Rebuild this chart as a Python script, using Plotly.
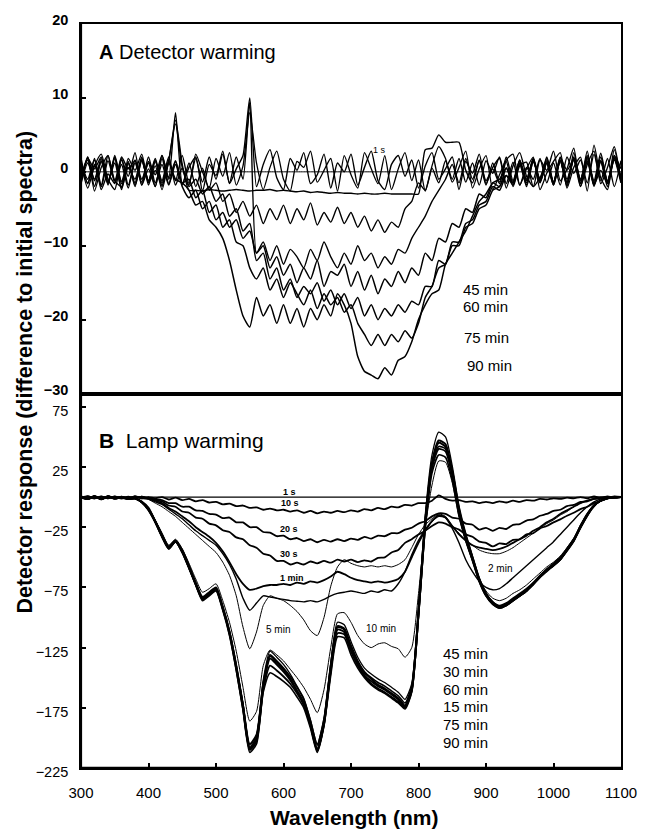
import plotly.graph_objects as go

# ---------------- data ----------------
WAVELENGTH = list(range(300, 1101, 10))

# Panel A: detector warming (difference to initial spectra)
A_1S = [0.0, 0.0, 0.0, 0.0, 0.0, 0.0, 0.0, 0.0, 0.0, 0.0,
        0.0, 0.0, 0.0, 0.0, 0.0, 0.0, 0.0, 0.0, 0.0, 0.0,
        0.0, 0.0, 0.0, 0.0, 0.0, 0.0, 0.0, 0.0, 0.0, 0.0,
        0.0, 0.0, 0.0, 0.0, 0.0, 0.0, 0.0, 0.0, 0.0, 0.0,
        0.0, 0.0, 0.0, 0.0, 0.0, 0.0, 0.0, 0.0, 0.0, 0.0,
        0.0, 0.0, 0.0, 0.0, 0.0, 0.0, 0.0, 0.0, 0.0, 0.0,
        0.0, 0.0, 0.0, 0.0, 0.0, 0.0, 0.0, 0.0, 0.0, 0.0,
        0.0, 0.0, 0.0, 0.0, 0.0, 0.0, 0.0, 0.0, 0.0, 0.0,
        0.0]
A_2MIN = [-0.8, 2.0, -2.6, 0.6, 2.2, -1.2, -2.0, 1.8, 0.2, 2.4,
          -1.4, 0.8, -2.4, 1.6, 6.5, 0.6, -1.8, 2.4, 0.0, -2.2,
          1.8, -0.6, 2.6, -1.8, 0.8, 8.0, 1.2, -2.4, 0.6, 2.8,
          -1.0, -2.6, 1.4, 0.6, 2.8, -1.4, 0.2, 1.8, -2.6, 2.2,
          -0.4, -2.2, 2.6, 0.4, -1.6, 2.2, -2.4, 0.4, 2.6, -1.2,
          1.6, -2.6, 0.8, 3.4, 1.8, -1.4, 0.6, 2.8, -2.2, 0.4,
          2.2, -2.4, -0.4, 1.6, 2.4, -1.8, 0.4, 2.0, -2.4, -0.2,
          1.4, 2.6, -2.2, 0.6, 2.0, -2.6, 3.6, -0.8, -2.4, 2.2,
          0.4]
A_5MIN = [1.2, -2.2, 0.8, 2.4, -1.0, -2.4, 1.6, -0.6, 2.6, -1.8,
          0.4, -2.0, 2.2, -0.8, 8.0, -1.6, 0.6, 2.0, -2.6, 1.0,
          -0.5, 2.8, -1.6, 0.4, 2.2, 10.0, -2.0, 1.0, 3.0, -0.8,
          -2.4, 1.8, 0.2, 2.6, -1.6, -0.4, 2.4, -2.2, 1.2, 0.0,
          2.4, -1.8, 0.6, 2.8, -1.2, -2.4, 1.0, 2.2, -0.6, 1.6,
          -2.2, 0.8, 2.6, -1.0, 0.4, 2.0, -2.4, 1.4, -0.2, 2.4,
          -1.6, 0.6, 1.8, -2.2, 0.8, 2.6, -0.6, -2.0, 1.6, 0.2,
          2.8, -1.2, 0.4, 3.2, -2.0, 1.0, 2.8, -1.6, 0.6, 3.4,
          -1.4]
A_10MIN = [-1.2, 1.8, 0.4, 2.0, -1.4, 1.2, -2.2, 0.6, -1.0, 1.8,
           -1.5, 0.2, -1.8, 1.4, 7.0, 1.0, -2.5, -2.5, -2.6, -2.4,
           -2.5, -2.6, -2.5, -2.4, -2.5, -2.6, -2.5, -2.5, -2.4, -2.6,
           -2.5, -2.6, -2.7, -2.6, -2.8, -2.7, -2.8, -2.9, -2.8, -2.9,
           -2.9, -3.0, -2.9, -3.0, -3.0, -2.9, -3.0, -3.0, -3.0, -3.0,
           -3.0, 3.0, 3.2, 5.0, 4.0, 4.0, 4.0, 0.2, -1.5, 1.6,
           -1.2, 0.4, -1.6, 1.4, -2.0, 0.8, 1.3, -2.0, -0.8, 1.2,
           -1.4, 1.9, 0.2, 1.6, -1.5, 2.8, -1.8, 0.2, -1.6, 3.0,
           -1.2]
A_15MIN = [1.0, -1.5, 1.8, -2.4, -0.3, -1.6, 2.0, 0.4, 1.5, -1.8,
           1.4, -0.4, 2.2, -1.0, 1.5, -1.8, 1.2, -2.0, 0.5, -2.5,
           -1.5, -4.0, -3.0, -5.5, -4.0, -6.0, -4.5, -7.0, -5.0, -6.5,
           -4.5, -7.0, -5.0, -6.5, -4.2, -7.2, -5.5, -6.8, -4.8, -7.0,
           -5.5, -7.5, -6.0, -8.0, -6.5, -8.2, -6.8, -7.5, -5.0, -4.0,
           -1.5, -2.5, 0.5, -1.5, 1.5, -1.0, 1.8, -1.4, 1.2, -1.8,
           1.5, -0.2, 2.0, -1.6, 1.3, -1.8, 0.6, -1.0, 1.8, -1.5,
           1.2, -1.8, 2.0, -0.2, 1.6, -1.5, 2.4, -1.2, 1.8, -2.0,
           1.5]
A_30MIN = [-1.6, 1.2, -1.0, 1.8, -1.8, 2.2, -1.3, 1.4, -2.0, 1.6,
           -1.2, 1.6, -2.0, 1.5, -1.2, 2.2, -1.6, 1.8, -1.4, 2.0,
           -1.0, 2.4, -1.5, 2.0, -1.0, 9.5, -11.0, -9.5, -12.0, -10.0,
           -12.5, -10.5, -11.5, -13.0, -10.5, -12.0, -9.5, -11.5, -13.0, -11.0,
           -12.5, -10.0, -12.0, -11.0, -13.0, -11.5, -12.5, -10.5, -11.0, -9.0,
           -7.5, -6.0, -4.0, -2.5, -1.0, 1.0, -1.5, 1.8, -1.0, 1.5,
           -1.8, 1.2, -1.4, 2.0, -1.2, 1.6, -2.0, 1.4, -1.0, 1.8,
           -1.5, 1.6, -1.8, 2.6, -1.2, 1.8, -2.0, 1.5, -1.6, 2.2,
           -0.8]
A_45MIN = [1.2, -1.0, 1.6, -1.8, 2.2, -1.5, 1.0, -2.2, 1.6, -1.0,
           1.2, -2.0, 1.8, -1.6, 1.0, -2.0, -3.5, -2.5, -5.0, -4.0,
           -6.5, -5.5, -7.5, -6.5, -9.0, -8.0, -11.0, -10.0, -13.0, -11.5,
           -14.0, -12.5, -15.0, -13.0, -14.5, -12.0, -15.5, -13.5, -14.0, -12.5,
           -15.5, -13.5, -16.0, -14.0, -16.5, -14.5, -15.5, -13.5, -15.0, -13.0,
           -14.0, -11.0, -12.0, -9.0, -9.5, -7.0, -7.5, -5.0, -5.5, -3.0,
           -3.5, -1.5, -2.0, 0.5, -1.5, 1.6, -1.2, 1.8, -1.5, 1.2,
           -1.6, 2.0, -1.0, 1.6, -2.0, 1.4, -1.8, 2.0, -1.2, 1.6,
           -1.5]
A_60MIN = [-1.4, 2.0, -1.2, 1.4, -1.6, 1.8, -2.4, 1.2, -1.5, 2.0,
           -1.8, 1.4, -1.2, 2.0, -1.8, 0.5, -2.0, -1.0, -3.0, -2.0,
           -4.0, -3.0, -6.0, -5.0, -8.0, -7.0, -12.0, -11.0, -14.5, -13.0,
           -16.0, -14.5, -17.0, -15.5, -16.5, -15.0, -17.5, -16.0, -18.0, -16.5,
           -18.5, -17.0, -19.5, -18.0, -20.0, -18.5, -19.5, -18.0, -19.0, -17.5,
           -18.0, -15.5, -15.5, -12.0, -12.5, -9.5, -9.5, -7.0, -6.5, -4.5,
           -4.0, -2.0, -2.5, -0.5, -1.5, 1.0, -1.8, 1.4, -1.2, 2.0,
           -1.4, 1.5, -2.0, 1.8, -1.2, 2.2, -1.6, 1.4, -2.0, 1.8,
           -1.0]
A_75MIN = [1.8, -1.6, 1.0, -2.0, 1.5, -1.2, 1.8, -1.8, 1.2, -1.4,
           2.0, -1.5, 1.0, -1.8, 1.4, -1.5, -1.0, -3.5, -2.5, -5.5,
           -4.5, -7.5, -6.5, -9.5, -10.0, -13.0, -14.5, -13.0, -16.0, -14.5,
           -17.0, -15.0, -16.5, -18.0, -16.0, -18.5, -16.5, -18.0, -17.0, -19.0,
           -18.0, -20.5, -22.0, -23.5, -22.0, -23.5, -22.0, -23.0, -21.5, -22.5,
           -20.5, -17.0, -15.5, -13.0, -12.5, -10.0, -10.0, -7.5, -7.0, -5.0,
           -4.5, -2.5, -2.0, -0.5, -1.8, 1.2, -1.5, 1.8, -1.0, 1.5,
           -1.8, 1.6, -1.4, 2.0, -1.6, 1.5, -1.2, 2.5, -1.5, 1.8,
           -1.2]
A_90MIN = [-1.0, 1.6, -2.0, 1.5, -1.4, 2.0, -1.6, 1.2, -1.8, 1.5,
           -1.2, 1.8, -1.5, 1.2, -1.0, -1.5, -2.5, -4.5, -4.0, -6.5,
           -7.5, -9.0, -12.0, -16.0, -19.5, -21.0, -17.0, -19.5, -18.0, -20.5,
           -18.0, -20.5, -18.5, -21.0, -18.5, -20.0, -18.0, -19.5, -16.5, -18.0,
           -20.5, -25.0, -27.0, -27.5, -28.0, -26.5, -27.5, -25.5, -25.0, -23.0,
           -20.0, -18.0, -16.5, -16.0, -12.5, -11.0, -9.5, -8.0, -6.0, -4.0,
           -3.0, -1.5, -1.0, 0.5, -1.5, 1.4, -1.0, 1.6, -1.4, 1.2,
           -1.8, 1.5, -1.5, 1.8, -1.0, 2.0, -1.6, 1.5, -1.4, 2.0,
           -1.0]

# Panel B: lamp warming
B_1S = [0.0, 0.0, 0.0, 0.0, 0.0, 0.0, 0.0, 0.0, 0.0, 0.0,
        0.0, 0.0, 0.0, 0.0, 0.0, 0.0, 0.0, 0.0, 0.0, 0.0,
        0.0, 0.0, 0.0, 0.0, 0.0, 0.0, 0.0, 0.0, 0.0, 0.0,
        0.0, 0.0, 0.0, 0.0, 0.0, 0.0, 0.0, 0.0, 0.0, 0.0,
        0.0, 0.0, 0.0, 0.0, 0.0, 0.0, 0.0, 0.0, 0.0, 0.0,
        0.0, 0.0, 0.0, 0.0, 0.0, 0.0, 0.0, 0.0, 0.0, 0.0,
        0.0, 0.0, 0.0, 0.0, 0.0, 0.0, 0.0, 0.0, 0.0, 0.0,
        0.0, 0.0, 0.0, 0.0, 0.0, 0.0, 0.0, 0.0, 0.0, 0.0,
        0.0]
B_10S = [0.5, -1.5, 0.8, -1.2, 0.5, -1.5, 0.3, -1.2, 0.5, -1.0,
         0.0, -1.0, 0.0, -2.0, -0.5, -2.5, -1.5, -3.5, -2.5, -4.5,
         -4.0, -6.0, -5.5, -7.5, -7.0, -9.0, -8.5, -10.5, -9.5, -11.0,
         -10.5, -12.0, -11.0, -13.0, -11.5, -13.5, -12.0, -13.0, -11.5, -12.5,
         -11.0, -12.0, -10.0, -11.0, -9.0, -10.0, -8.0, -8.5, -6.5, -7.0,
         -5.0, -5.0, -3.0, 1.5, -1.5, -3.0, -2.5, -4.0, -3.5, -5.0,
         -4.0, -5.0, -3.5, -4.5, -3.0, -4.0, -2.5, -3.0, -1.5, -2.0,
         -1.0, -1.5, -0.5, -1.0, 0.0, -1.0, 0.5, -0.5, 0.5, -0.5,
         0.0]
B_20S = [-0.5, 0.8, -1.2, 0.6, -1.0, 0.5, -1.3, 0.4, -0.8, 0.3,
         -1.0, -2.0, -2.5, -5.0, -5.0, -8.0, -8.0, -11.0, -11.5, -14.0,
         -14.5, -17.5, -17.0, -21.0, -21.0, -25.0, -25.0, -29.0, -29.5, -32.5,
         -32.0, -35.0, -34.0, -36.5, -35.0, -37.5, -35.5, -37.0, -35.0, -36.5,
         -34.5, -35.5, -33.0, -34.5, -32.0, -32.5, -30.0, -30.0, -27.0, -25.5,
         -22.0, -20.0, -16.0, -13.5, -14.0, -17.0, -18.0, -22.0, -23.0, -27.0,
         -25.5, -28.0, -25.5, -26.5, -23.0, -22.5, -19.5, -18.5, -15.5, -14.0,
         -11.5, -10.5, -7.5, -6.5, -4.0, -3.5, -1.5, -1.0, 0.0, -0.5,
         0.0]
B_30S = [0.6, -1.0, 0.4, -1.5, 0.8, -0.8, 0.2, -1.2, 0.5, -0.6,
         -0.5, -2.5, -3.5, -7.0, -8.0, -12.0, -13.0, -17.0, -18.0, -22.0,
         -23.5, -27.5, -29.0, -33.5, -35.0, -40.0, -42.0, -47.0, -48.5, -53.0,
         -53.0, -56.0, -54.5, -56.0, -53.5, -55.0, -53.0, -54.5, -52.0, -53.5,
         -52.0, -54.0, -52.5, -53.5, -50.5, -50.0, -46.0, -44.0, -38.0, -35.0,
         -31.0, -28.0, -24.0, -21.0, -22.0, -25.0, -27.0, -31.0, -33.0, -37.0,
         -38.0, -41.0, -38.5, -39.0, -35.5, -35.0, -31.0, -30.0, -26.0, -24.0,
         -21.0, -18.5, -15.5, -13.0, -10.0, -8.0, -5.0, -3.0, -1.0, -0.5,
         0.0]
B_1MIN = [0.5, -1.0, 0.3, -1.2, 0.6, -0.8, 0.2, -1.4, 0.4, -1.0,
          -1.0, -3.0, -5.0, -9.0, -12.0, -16.0, -20.0, -25.0, -29.0, -33.0,
          -38.0, -45.0, -54.0, -64.0, -72.0, -77.0, -76.0, -74.0, -73.0, -73.0,
          -72.0, -73.0, -71.0, -72.0, -70.0, -71.0, -69.0, -66.0, -62.0, -64.0,
          -67.0, -69.0, -70.0, -71.0, -70.0, -71.0, -70.0, -68.0, -62.0, -50.0,
          -38.0, -28.0, -20.0, -15.0, -17.0, -24.0, -31.0, -36.0, -40.0, -42.0,
          -43.0, -44.0, -43.0, -41.0, -38.0, -35.0, -32.0, -28.0, -25.0, -21.0,
          -18.0, -14.0, -11.0, -8.0, -5.0, -3.0, -1.5, -0.5, 0.0, -0.5,
          0.0]
B_2MIN = [-0.5, 0.8, -1.0, 0.5, -1.2, 0.6, -0.8, 0.3, -1.0, 0.5,
          -1.5, -4.0, -6.0, -10.0, -14.0, -18.0, -23.0, -28.0, -32.0, -36.0,
          -40.0, -47.0, -56.0, -68.0, -84.0, -94.0, -88.0, -82.0, -83.0, -84.0,
          -85.0, -86.0, -86.5, -87.0, -86.0, -87.0, -85.0, -82.0, -80.0, -79.0,
          -78.0, -79.0, -80.0, -78.0, -79.0, -77.0, -78.0, -72.0, -62.0, -48.0,
          -36.0, -27.0, -20.0, -16.0, -17.0, -26.0, -38.0, -52.0, -62.0, -70.0,
          -75.0, -77.0, -76.0, -72.0, -67.0, -62.0, -57.0, -52.0, -47.0, -42.0,
          -37.0, -31.0, -25.0, -19.0, -13.0, -8.0, -4.0, -1.5, 0.0, -0.5,
          0.0]
B_5MIN = [0.3, -0.8, 0.5, -1.0, 0.2, -1.2, 0.6, -0.6, 0.2, -1.0,
          -2.0, -5.0, -8.0, -12.0, -16.0, -21.0, -26.0, -31.0, -36.0, -41.0,
          -46.0, -54.0, -65.0, -82.0, -108.0, -126.0, -112.0, -90.0, -82.0, -84.0,
          -86.0, -90.0, -95.0, -102.0, -111.0, -115.0, -100.0, -74.0, -58.0, -52.0,
          -55.0, -57.0, -58.0, -57.0, -58.0, -57.0, -58.0, -56.0, -52.0, -42.0,
          -31.0, -23.0, -18.0, -14.0, -16.0, -24.0, -30.0, -36.0, -40.0, -44.0,
          -46.0, -47.0, -47.0, -45.0, -42.0, -38.0, -34.0, -30.0, -26.0, -22.0,
          -19.0, -15.0, -12.0, -8.0, -5.0, -3.0, -1.0, 0.0, -0.5, 0.3,
          0.0]
B_10MIN = [0.3, -1.4, 0.6, -1.5, 0.2, -1.0, -0.3, -1.4, -1.0, -4.0,
           -9.0, -19.0, -30.0, -40.0, -35.0, -43.0, -55.0, -68.0, -79.0, -76.0,
           -72.0, -86.0, -104.0, -128.0, -158.0, -186.0, -178.0, -140.0, -127.0, -131.0,
           -136.0, -143.0, -150.0, -158.0, -168.0, -179.0, -160.0, -125.0, -97.0, -96.0,
           -104.0, -115.0, -122.0, -125.0, -122.0, -121.0, -124.0, -126.0, -133.0, -125.0,
           -80.0, -25.0, 10.0, 30.0, 29.0, 12.0, -17.0, -37.0, -53.0, -68.0,
           -78.0, -84.0, -86.0, -84.0, -80.0, -77.0, -73.0, -68.0, -63.0, -58.0,
           -54.0, -49.0, -42.0, -34.0, -23.0, -14.0, -7.0, -3.0, -1.0, 0.0,
           0.0]
B_15MIN = [-0.2, -1.8, 0.4, -1.6, 0.1, -1.2, -0.3, -1.7, -1.2, -4.0,
           -10.0, -20.0, -32.0, -42.0, -36.0, -45.0, -58.0, -72.0, -84.0, -80.0,
           -76.0, -92.0, -112.0, -140.0, -172.0, -205.0, -197.0, -154.0, -131.0, -136.0,
           -142.0, -149.0, -158.0, -168.0, -186.0, -206.0, -184.0, -139.0, -107.0, -109.0,
           -123.0, -136.0, -145.0, -150.0, -154.0, -157.0, -161.0, -165.0, -171.0, -157.0,
           -94.0, -18.0, 26.0, 42.0, 40.0, 20.0, -12.0, -34.0, -51.0, -68.0,
           -80.0, -87.0, -90.0, -88.0, -84.0, -80.0, -76.0, -71.0, -65.0, -60.0,
           -55.0, -50.0, -43.0, -35.0, -24.0, -14.0, -7.0, -3.0, -1.0, 0.0,
           0.0]
B_30MIN = [-0.3, -1.6, 0.6, -1.9, 0.4, -1.2, -0.4, -1.6, -1.1, -3.8,
           -9.0, -20.0, -32.0, -42.0, -37.0, -45.0, -58.0, -72.0, -84.0, -80.0,
           -76.0, -92.0, -112.0, -140.0, -173.0, -208.0, -200.0, -156.0, -132.0, -137.0,
           -143.0, -151.0, -161.0, -171.0, -189.0, -209.0, -187.0, -141.0, -108.0, -110.0,
           -125.0, -137.0, -146.0, -151.0, -156.0, -159.0, -163.0, -167.0, -173.0, -159.0,
           -96.0, -20.0, 29.0, 47.0, 44.0, 22.0, -10.0, -32.0, -50.0, -68.0,
           -80.0, -88.0, -92.0, -90.0, -86.0, -82.0, -78.0, -72.0, -66.0, -61.0,
           -56.0, -51.0, -43.0, -35.0, -25.0, -15.0, -7.0, -3.0, -1.0, 0.5,
           0.0]
B_45MIN = [0.5, -1.2, 0.8, -1.5, 0.2, -1.0, -0.2, -1.2, -1.5, -4.5,
           -10.0, -21.0, -33.0, -42.0, -36.0, -46.0, -59.0, -73.0, -85.0, -81.0,
           -77.0, -93.0, -113.0, -141.0, -172.0, -206.0, -198.0, -152.0, -128.0, -133.0,
           -139.0, -147.0, -157.0, -167.0, -185.0, -205.0, -184.0, -138.0, -104.0, -106.0,
           -120.0, -133.0, -142.0, -147.0, -151.0, -154.0, -158.0, -162.0, -168.0, -155.0,
           -92.0, -15.0, 35.0, 54.0, 50.0, 26.0, -7.0, -30.0, -49.0, -67.0,
           -80.0, -87.0, -91.0, -89.0, -86.0, -82.0, -78.0, -73.0, -67.0, -62.0,
           -57.0, -52.0, -45.0, -37.0, -26.0, -16.0, -8.0, -3.0, -1.0, 0.0,
           0.0]
B_60MIN = [0.2, -1.4, 0.3, -1.7, 0.5, -0.8, -0.6, -1.4, -0.9, -4.2,
           -10.0, -20.0, -31.0, -41.0, -36.0, -44.0, -57.0, -71.0, -83.0, -79.0,
           -75.0, -91.0, -112.0, -141.0, -174.0, -209.0, -201.0, -158.0, -134.0, -139.0,
           -145.0, -152.0, -161.0, -171.0, -189.0, -210.0, -188.0, -143.0, -110.0, -112.0,
           -127.0, -139.0, -148.0, -153.0, -157.0, -160.0, -164.0, -168.0, -174.0, -160.0,
           -97.0, -22.0, 27.0, 45.0, 42.0, 21.0, -11.0, -33.0, -51.0, -69.0,
           -81.0, -88.0, -91.0, -89.0, -85.0, -81.0, -77.0, -72.0, -66.0, -60.0,
           -56.0, -51.0, -44.0, -36.0, -24.0, -14.0, -7.0, -3.0, -1.0, 0.0,
           0.0]
B_75MIN = [0.4, -1.3, 0.7, -1.6, 0.0, -1.1, -0.5, -1.3, -1.0, -4.3,
           -11.0, -21.0, -33.0, -43.0, -37.0, -46.0, -59.0, -73.0, -85.0, -81.0,
           -77.0, -93.0, -114.0, -143.0, -176.0, -210.0, -203.0, -160.0, -140.0, -144.0,
           -149.0, -155.0, -163.0, -173.0, -190.0, -211.0, -189.0, -145.0, -113.0, -114.0,
           -128.0, -140.0, -149.0, -155.0, -159.0, -162.0, -166.0, -170.0, -175.0, -161.0,
           -98.0, -24.0, 24.0, 40.0, 38.0, 18.0, -13.0, -35.0, -52.0, -70.0,
           -82.0, -89.0, -92.0, -90.0, -86.0, -82.0, -78.0, -72.0, -66.0, -61.0,
           -57.0, -52.0, -44.0, -36.0, -25.0, -15.0, -7.0, -3.0, -1.0, 0.0,
           0.0]
B_90MIN = [-0.1, -1.5, 0.5, -1.8, 0.3, -0.9, -0.4, -1.5, -1.0, -4.4,
           -11.0, -21.0, -33.0, -43.0, -37.0, -46.0, -59.0, -73.0, -86.0, -82.0,
           -78.0, -94.0, -115.0, -144.0, -177.0, -212.0, -205.0, -162.0, -146.0, -149.0,
           -153.0, -158.0, -166.0, -175.0, -192.0, -212.0, -190.0, -148.0, -116.0, -117.0,
           -131.0, -142.0, -150.0, -156.0, -160.0, -163.0, -167.0, -171.0, -176.0, -162.0,
           -99.0, -26.0, 20.0, 35.0, 33.0, 14.0, -15.0, -36.0, -53.0, -70.0,
           -82.0, -89.0, -92.0, -90.0, -86.0, -82.0, -78.0, -72.0, -66.0, -61.0,
           -57.0, -52.0, -44.0, -36.0, -25.0, -15.0, -7.0, -3.0, -1.0, 0.0,
           0.0]

X_TICKS = [300, 400, 500, 600, 700, 800, 900, 1000, 1100]
A_TICKS = [20, 10, 0, -10, -20, -30]
B_TICKS = [75, 25, -25, -75, -125, -175, -225]

# ---------------- figure ----------------
FONT = "Arial, Liberation Sans, Helvetica, sans-serif"
fig = go.Figure()

a_series = [("1 s", A_1S, 1.0), ("2 min", A_2MIN, 1.3), ("5 min", A_5MIN, 1.4),
            ("10 min", A_10MIN, 1.4), ("15 min", A_15MIN, 1.4), ("30 min", A_30MIN, 1.4),
            ("45 min", A_45MIN, 1.5), ("60 min", A_60MIN, 1.5), ("75 min", A_75MIN, 1.5),
            ("90 min", A_90MIN, 1.5)]
for name, ys, w in a_series:
    fig.add_trace(go.Scatter(x=WAVELENGTH, y=ys, mode="lines", name=name,
                             line=dict(color="black", width=w, shape="spline", smoothing=0.6),
                             xaxis="x2", yaxis="y2", showlegend=False, hoverinfo="skip"))

b_series = [("1 s", B_1S, 1.2), ("10 s", B_10S, 1.8), ("20 s", B_20S, 1.8),
            ("30 s", B_30S, 1.8), ("1 min", B_1MIN, 1.8), ("2 min", B_2MIN, 1.4),
            ("5 min", B_5MIN, 1.0), ("10 min", B_10MIN, 1.0), ("15 min", B_15MIN, 1.6),
            ("30 min", B_30MIN, 2.0), ("45 min", B_45MIN, 1.3), ("60 min", B_60MIN, 2.0),
            ("75 min", B_75MIN, 1.8), ("90 min", B_90MIN, 1.6)]
for name, ys, w in b_series:
    fig.add_trace(go.Scatter(x=WAVELENGTH, y=ys, mode="lines", name=name,
                             line=dict(color="black", width=w, shape="spline", smoothing=0.6),
                             xaxis="x", yaxis="y", showlegend=False, hoverinfo="skip"))

SPLIT = 0.5033
axis_common = dict(showline=True, linecolor="black", linewidth=1.6, mirror=True,
                   ticks="inside", ticklen=5, tickwidth=1.5, tickcolor="black",
                   showgrid=False, zeroline=False)

fig.update_layout(
    width=649, height=833,
    margin=dict(l=81, r=22, t=17, b=65),
    paper_bgcolor="white", plot_bgcolor="white",
    font=dict(family=FONT, color="black"),
    xaxis=dict(domain=[0, 1], anchor="y", range=[300, 1100], tickvals=X_TICKS,
               tickfont=dict(size=15, family=FONT), ticklabelstandoff=10, **axis_common),
    yaxis=dict(domain=[0, SPLIT], anchor="x", range=[-225, 86], tickvals=B_TICKS,
               tickfont=dict(size=14.5, family=FONT), ticklabelstandoff=8,
               ticklabelshift=4, **axis_common),
    xaxis2=dict(domain=[0, 1], anchor="y2", range=[300, 1100], matches="x",
                showticklabels=False, showline=True, linecolor="black", linewidth=1.6,
                mirror=True, ticks="", showgrid=False, zeroline=False),
    yaxis2=dict(domain=[SPLIT, 1], anchor="x2", range=[-30, 20], tickvals=A_TICKS,
                tickfont=dict(size=14.5, family=FONT, weight="bold"), ticklabelstandoff=8,
                ticklabelshift=-4, **axis_common),
)

# panel divider (thick)
fig.add_shape(type="line", xref="paper", yref="paper", x0=0, x1=1, y0=SPLIT, y1=SPLIT,
              line=dict(color="black", width=3))
# thick left and bottom spines
fig.add_shape(type="line", xref="paper", yref="paper", x0=0, x1=0, y0=0, y1=1,
              line=dict(color="black", width=2.2))
fig.add_shape(type="line", xref="paper", yref="paper", x0=0, x1=1, y0=0, y1=0,
              line=dict(color="black", width=2.4))

ann = []
# panel titles
ann.append(dict(text="<b>A</b> Detector warming", x=0.029, y=0.9627, xref="paper", yref="paper",
                xanchor="left", yanchor="middle", showarrow=False, font=dict(size=20, family=FONT)))
ann.append(dict(text="<b>B</b>  Lamp warming", x=0.029, y=0.4407, xref="paper", yref="paper",
                xanchor="left", yanchor="middle", showarrow=False, font=dict(size=21, family=FONT)))
# axis titles
ann.append(dict(text="<b>Detector response (difference to initial spectra)</b>", x=-0.104, y=0.5326,
                xref="paper", yref="paper", textangle=-90, xanchor="center", yanchor="middle",
                showarrow=False, font=dict(size=21.5, family=FONT)))
ann.append(dict(text="<b>Wavelength (nm)</b>", x=0.505, y=-0.0666, xref="paper", yref="paper",
                xanchor="center", yanchor="middle", showarrow=False, font=dict(size=21, family=FONT)))

# panel A curve labels
for t, x, y, s in [("1 s", 742, 2.9, 9), ("45 min", 899, -15.9, 15), ("60 min", 899, -18.2, 15),
                   ("75 min", 901, -22.4, 15), ("90 min", 905, -26.2, 15)]:
    ann.append(dict(text=t, x=x, y=y, xref="x2", yref="y2", showarrow=False,
                    font=dict(size=s, family=FONT)))
# panel B curve labels
for t, x, y, s, b in [("1 s", 609, 4.4, 9, True), ("10 s", 609, -4.6, 9, True),
                      ("20 s", 608, -26.8, 9, True), ("30 s", 608, -47.4, 9, True),
                      ("1 min", 612, -67.0, 9, True), ("2 min", 921, -59.0, 10, False),
                      ("5 min", 592, -110.0, 10, False), ("10 min", 744, -109.0, 10, False),
                      ("45 min", 870, -129.7, 15, False), ("30 min", 870, -144.5, 15, False),
                      ("60 min", 870, -159.4, 15, False), ("15 min", 870, -174.2, 15, False),
                      ("75 min", 870, -189.0, 15, False), ("90 min", 870, -203.8, 15, False)]:
    ann.append(dict(text=("<b>%s</b>" % t) if b else t, x=x, y=y, xref="x", yref="y",
                    showarrow=False, font=dict(size=s, family=FONT)))
fig.update_layout(annotations=ann)

fig.write_html("out.html")
